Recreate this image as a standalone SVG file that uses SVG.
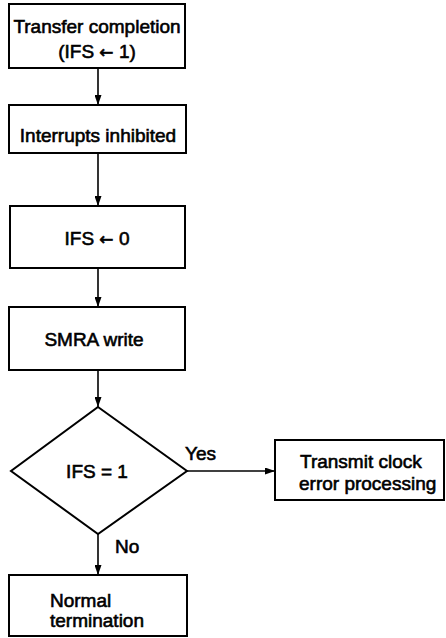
<svg xmlns="http://www.w3.org/2000/svg" width="446" height="638" viewBox="0 0 446 638">
<style>
.box{fill:#fff;stroke:#000;stroke-width:2}
.t{font-family:"Liberation Sans",Arial,sans-serif;font-size:19px;fill:#000;stroke:#000;stroke-width:0.6}
.c{text-anchor:middle}
.ar{font-family:"DejaVu Sans",sans-serif;font-size:17px}
.ln{stroke:#000;stroke-width:1.6;fill:none}
</style>
<defs>
<marker id="ah" viewBox="0 0 10 7" refX="10" refY="3.5" markerWidth="10" markerHeight="7" markerUnits="userSpaceOnUse" orient="auto">
<path d="M0,0 L10,3.5 L0,7 z" fill="#000"/>
</marker>
</defs>
<g id="connectors">
<line class="ln" x1="98" y1="68" x2="98" y2="105" marker-end="url(#ah)"/>
<line class="ln" x1="98" y1="153" x2="98" y2="206" marker-end="url(#ah)"/>
<line class="ln" x1="98" y1="268" x2="98" y2="307" marker-end="url(#ah)"/>
<line class="ln" x1="98" y1="370" x2="98" y2="407" marker-end="url(#ah)"/>
<line class="ln" x1="187" y1="471" x2="275" y2="471" marker-end="url(#ah)"/>
<line class="ln" x1="98" y1="534" x2="98" y2="575" marker-end="url(#ah)"/>
<text class="t" x="185" y="460">Yes</text>
<text class="t" x="115" y="553">No</text>
</g>
<g id="n1">
<rect class="box" x="9" y="4" width="176" height="64"/>
<text class="t c" x="97" y="33">Transfer completion</text>
<text class="t c" x="97" y="58">(IFS <tspan class="ar">←</tspan> 1)</text>
</g>
<g id="n2">
<rect class="box" x="9" y="105" width="177" height="48"/>
<text class="t c" x="98" y="142">Interrupts inhibited</text>
</g>
<g id="n3">
<rect class="box" x="10" y="206" width="175" height="62"/>
<text class="t c" x="97" y="245">IFS <tspan class="ar">←</tspan> 0</text>
</g>
<g id="n4">
<rect class="box" x="9" y="307" width="176" height="63"/>
<text class="t c" x="94" y="346">SMRA write</text>
</g>
<g id="n5">
<polygon class="box" points="98,407 187,471 98,534 11,471"/>
<text class="t c" x="97" y="478">IFS = 1</text>
</g>
<g id="n6">
<rect class="box" x="275" y="440" width="169" height="60"/>
<text class="t" x="300" y="468">Transmit clock</text>
<text class="t" x="299" y="490">error processing</text>
</g>
<g id="n7">
<rect class="box" x="9" y="575" width="178" height="61"/>
<text class="t" x="50" y="607">Normal</text>
<text class="t" x="50" y="627">termination</text>
</g>
</svg>
